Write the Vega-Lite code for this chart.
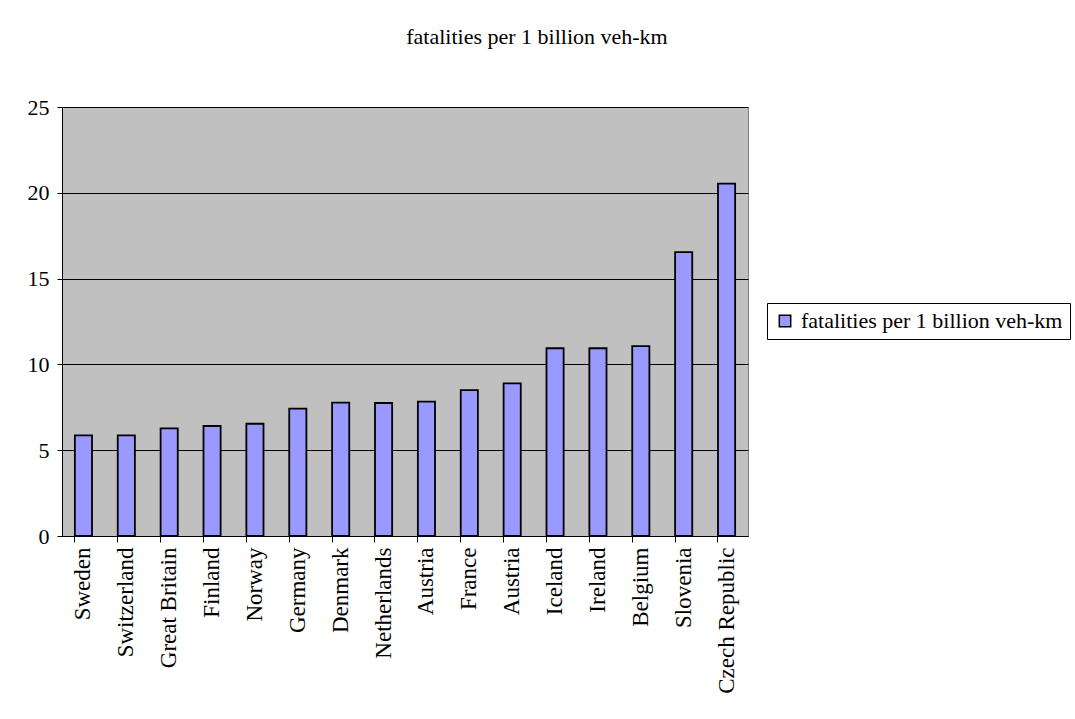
{
  "$schema": "https://vega.github.io/schema/vega-lite/v6.json",
  "autosize": "none",
  "width": 686,
  "height": 429,
  "padding": {"left": 62, "top": 107, "right": 327, "bottom": 183},
  "background": "white",
  "title": {
    "text": "fatalities per 1 billion veh-km",
    "font": "Liberation Serif",
    "fontSize": 22,
    "fontWeight": "normal",
    "color": "black",
    "anchor": "middle",
    "dx": 132,
    "offset": 47
  },
  "data": {
    "values": [
      {"key": "Sweden#1", "value": 5.86, "series": "fatalities per 1 billion veh-km"},
      {"key": "Switzerland#1", "value": 5.86, "series": "fatalities per 1 billion veh-km"},
      {"key": "Great Britain#1", "value": 6.27, "series": "fatalities per 1 billion veh-km"},
      {"key": "Finland#1", "value": 6.41, "series": "fatalities per 1 billion veh-km"},
      {"key": "Norway#1", "value": 6.54, "series": "fatalities per 1 billion veh-km"},
      {"key": "Germany#1", "value": 7.42, "series": "fatalities per 1 billion veh-km"},
      {"key": "Denmark#1", "value": 7.77, "series": "fatalities per 1 billion veh-km"},
      {"key": "Netherlands#1", "value": 7.75, "series": "fatalities per 1 billion veh-km"},
      {"key": "Austria#1", "value": 7.83, "series": "fatalities per 1 billion veh-km"},
      {"key": "France#1", "value": 8.5, "series": "fatalities per 1 billion veh-km"},
      {"key": "Austria#2", "value": 8.89, "series": "fatalities per 1 billion veh-km"},
      {"key": "Iceland#1", "value": 10.94, "series": "fatalities per 1 billion veh-km"},
      {"key": "Ireland#1", "value": 10.94, "series": "fatalities per 1 billion veh-km"},
      {"key": "Belgium#1", "value": 11.07, "series": "fatalities per 1 billion veh-km"},
      {"key": "Slovenia#1", "value": 16.54, "series": "fatalities per 1 billion veh-km"},
      {"key": "Czech Republic#1", "value": 20.53, "series": "fatalities per 1 billion veh-km"}
    ]
  },
  "mark": {"type": "bar", "stroke": "black", "strokeWidth": 1.8},
  "encoding": {
    "x": {
      "field": "key",
      "type": "nominal",
      "sort": null,
      "scale": {"paddingInner": 0.6, "paddingOuter": 0.3},
      "axis": {
        "title": null,
        "labelExpr": "split(datum.value, '#')[0]",
        "labelAngle": -90,
        "labelAlign": "right",
        "labelBaseline": "middle",
        "labelFont": "Liberation Serif",
        "labelFontSize": 23,
        "labelColor": "black",
        "labelPadding": 5,
        "labelLimit": 300,
        "bandPosition": 0,
        "tickSize": 6,
        "tickColor": "black",
        "domainColor": "black",
        "domainWidth": 1,
        "grid": false
      }
    },
    "y": {
      "field": "value",
      "type": "quantitative",
      "scale": {"domain": [0, 25], "nice": false},
      "axis": {
        "title": null,
        "values": [0, 5, 10, 15, 20, 25],
        "labelFont": "Liberation Serif",
        "labelFontSize": 22,
        "labelColor": "black",
        "labelPadding": 8,
        "tickSize": 5,
        "tickColor": "black",
        "domainColor": "black",
        "grid": true,
        "gridColor": "black",
        "gridOpacity": 1,
        "gridWidth": 1
      }
    },
    "color": {
      "field": "series",
      "type": "nominal",
      "scale": {"range": ["#9999FF"]},
      "legend": {
        "title": null,
        "orient": "none",
        "legendX": 705,
        "legendY": 196,
        "symbolType": "square",
        "symbolSize": 130,
        "symbolStrokeColor": "black",
        "symbolStrokeWidth": 1.5,
        "symbolOpacity": 1,
        "labelFont": "Liberation Serif",
        "labelFontSize": 22,
        "labelColor": "black",
        "labelLimit": 400,
        "labelOffset": 5,
        "strokeColor": "black",
        "fillColor": "white",
        "padding": 7
      }
    }
  },
  "config": {
    "view": {"fill": "#C0C0C0", "stroke": "#808080", "strokeWidth": 1}
  }
}
